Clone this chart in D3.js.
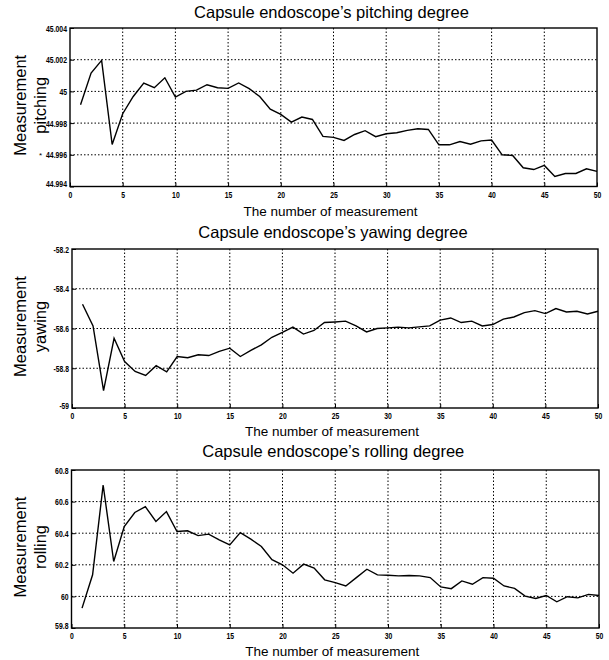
<!DOCTYPE html>
<html><head><meta charset="utf-8">
<script src="https://cdn.jsdelivr.net/npm/d3@7"></script>
<style>
body{margin:0;background:#fff;}
svg{display:block;}
</style></head>
<body>
<script>
const measurement = d3.range(1, 51);
const xTicks = [0,5,10,15,20,25,30,35,40,45,50];

const pitching = [44.99916,45.00116,45.00196,44.99665,44.99859,44.99968,45.00053,45.00023,45.00086,44.99964,
45.00000,45.00008,45.00042,45.00023,45.00019,45.00053,45.00017,44.99968,44.99888,44.99855,
44.99806,44.99838,44.99823,44.99716,44.99710,44.99691,44.99728,44.99752,44.99714,44.99733,
44.99739,44.99754,44.99764,44.99760,44.99663,44.99663,44.99684,44.99667,44.99688,44.99693,
44.99600,44.99596,44.99518,44.99507,44.99533,44.99463,44.99482,44.99482,44.99512,44.99495];
const pitchTicks = [44.994,44.996,44.998,45,45.002,45.004];
const pitchTickLabels = ["44.994","44.996","44.998","45","45.002","45.004"];

const yawing = [-58.478,-58.587,-58.913,-58.649,-58.766,-58.816,-58.836,-58.787,-58.818,-58.741,
-58.747,-58.732,-58.736,-58.715,-58.699,-58.741,-58.710,-58.682,-58.644,-58.620,
-58.593,-58.628,-58.610,-58.570,-58.567,-58.563,-58.587,-58.617,-58.600,-58.597,
-58.593,-58.597,-58.592,-58.587,-58.558,-58.547,-58.570,-58.563,-58.587,-58.580,
-58.553,-58.542,-58.520,-58.510,-58.525,-58.500,-58.517,-58.513,-58.527,-58.513];
const yawTicks = [-59,-58.8,-58.6,-58.4,-58.2];
const yawTickLabels = ["-59","-58.8","-58.6","-58.4","-58.2"];

const rolling = [59.926,60.137,60.705,60.221,60.442,60.531,60.568,60.474,60.537,60.411,
60.415,60.385,60.394,60.358,60.326,60.404,60.362,60.316,60.232,60.200,
60.147,60.204,60.179,60.105,60.087,60.066,60.119,60.172,60.136,60.134,
60.130,60.132,60.130,60.119,60.060,60.049,60.098,60.077,60.119,60.115,
60.066,60.051,60.002,59.987,60.006,59.966,59.998,59.991,60.013,60.006];
const rollTicks = [59.8,60,60.2,60.4,60.6,60.8];
const rollTickLabels = ["59.8","60","60.2","60.4","60.6","60.8"];

const panels = [
  {title:"Capsule endoscope\u2019s pitching degree", ylab2:"pitching", data:pitching, yTicks:pitchTicks, yLabels:pitchTickLabels,
   box:{x0:70,x1:597,y0:28,y1:186.5}, tOff:10, xOff:29.5},
  {title:"Capsule endoscope\u2019s yawing degree", ylab2:"yawing", data:yawing, yTicks:yawTicks, yLabels:yawTickLabels,
   box:{x0:72,x1:598,y0:249,y1:408}, tOff:11, xOff:28},
  {title:"Capsule endoscope\u2019s rolling degree", ylab2:"rolling", data:rolling, yTicks:rollTicks, yLabels:rollTickLabels,
   box:{x0:71.5,x1:599,y0:470,y1:628}, tOff:13, xOff:28}
];

const svg = d3.select("body").append("svg").attr("width",609).attr("height",660);
const tickFont = "'Liberation Sans Narrow','Arial Narrow','Liberation Sans',Arial,sans-serif";
const mainFont = "'Liberation Sans',Arial,sans-serif";

function squeeze(sel){
  sel.each(function(){
    const t = d3.select(this);
    const s = t.text();
    const w = s.replace(/[.\-]/g,"").length*3.8 + (s.match(/[.\-]/g)||[]).length*2;
    t.attr("textLength",w).attr("lengthAdjust","spacingAndGlyphs");
  });
}

panels.forEach(p => {
  const b = p.box;
  const x = d3.scaleLinear().domain([0,50]).range([b.x0,b.x1]);
  const y = d3.scaleLinear().domain([p.yTicks[0], p.yTicks[p.yTicks.length-1]]).range([b.y1,b.y0]);
  const g = svg.append("g");

  // grid
  g.selectAll(".vg").data(xTicks.slice(1,-1)).enter().append("line")
    .attr("x1",d=>x(d)).attr("x2",d=>x(d)).attr("y1",b.y0).attr("y2",b.y1)
    .attr("stroke","#000").attr("stroke-width",1).attr("stroke-dasharray","1.5,2");
  g.selectAll(".hg").data(p.yTicks.slice(1,-1)).enter().append("line")
    .attr("x1",b.x0).attr("x2",b.x1).attr("y1",d=>y(d)).attr("y2",d=>y(d))
    .attr("stroke","#000").attr("stroke-width",1).attr("stroke-dasharray","1.5,2");

  // axes
  const xa = g.append("g").attr("transform",`translate(0,${b.y1})`)
    .call(d3.axisBottom(x).tickValues(xTicks).tickSize(-4).tickPadding(4.5).tickFormat(d3.format("d")));
  const ya = g.append("g").attr("transform",`translate(${b.x0},0)`)
    .call(d3.axisLeft(y).tickValues(p.yTicks).tickSize(-4).tickPadding(3).tickFormat((d,i)=>p.yLabels[i]));
  [xa,ya].forEach(a=>{
    a.select(".domain").remove();
    a.selectAll("line").attr("stroke","#000");
    a.selectAll("text").attr("font-family",tickFont).attr("font-size",9.5).attr("fill","#000")
      .attr("font-weight","bold");
    squeeze(a.selectAll("text"));
  });
  // lift the lowest y label slightly so it clears the x "0"
  ya.selectAll(".tick").filter((d,i)=>i===0).select("text").attr("dy","0.05em");

  // border
  g.append("rect").attr("x",b.x0).attr("y",b.y0).attr("width",b.x1-b.x0).attr("height",b.y1-b.y0)
    .attr("fill","none").attr("stroke","#000").attr("stroke-width",1.4);

  // line
  const line = d3.line().x((d,i)=>x(measurement[i])).y(d=>y(d));
  g.append("path").datum(p.data).attr("d",line).attr("fill","none").attr("stroke","#000").attr("stroke-width",1.4);

  // title
  g.append("text").attr("x",(b.x0+b.x1)/2 - 2).attr("y",b.y0-p.tOff).attr("text-anchor","middle")
    .attr("font-family",mainFont).attr("font-size",16.5).text(p.title);
  // x label
  g.append("text").attr("x",(b.x0+b.x1)/2 - 3).attr("y",b.y1+p.xOff).attr("text-anchor","middle")
    .attr("font-family",mainFont).attr("font-size",13.5).text("The number of measurement");
  // y labels
  const cy = (b.y0+b.y1)/2 - 2;
  g.append("text").attr("transform",`translate(26,${cy}) rotate(-90)`).attr("text-anchor","middle")
    .attr("font-family",mainFont).attr("font-size",16.5).text("Measurement");
  g.append("text").attr("transform",`translate(46,${cy}) rotate(-90)`).attr("text-anchor","middle")
    .attr("font-family",mainFont).attr("font-size",16.5).text(p.ylab2);
});
// small stray mark left of the 44.996 label in the source figure
svg.append("text").attr("x",39).attr("y",158).attr("font-family",mainFont).attr("font-size",8).text("*");
</script>
</body></html>
